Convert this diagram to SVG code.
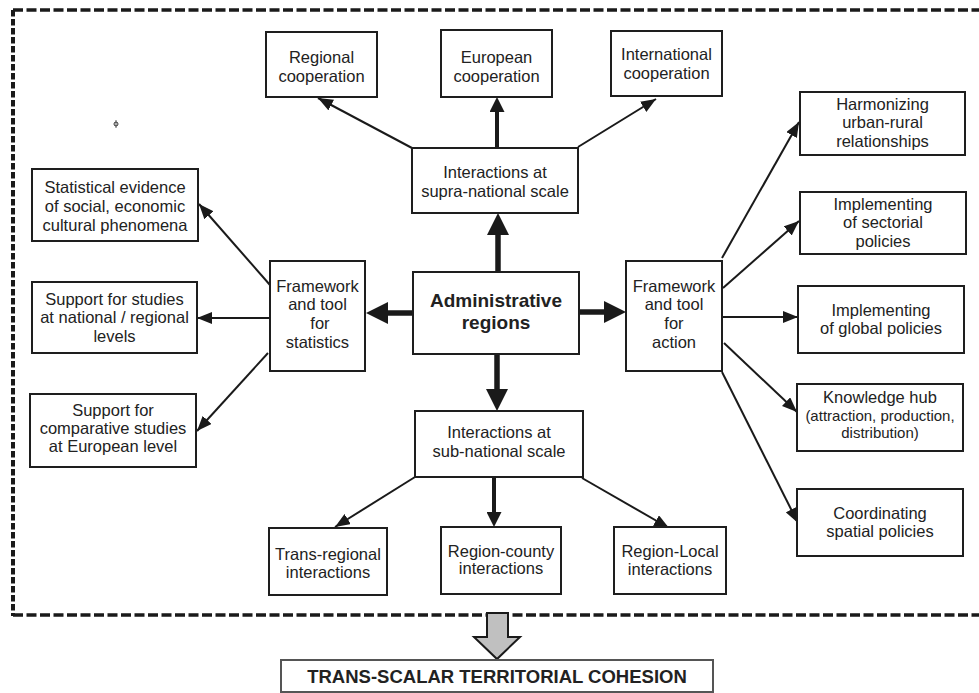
<svg xmlns="http://www.w3.org/2000/svg" width="979" height="693" viewBox="0 0 979 693">
<style>
  .box{fill:#fff;stroke:#1e1e1e;stroke-width:2}
  .t{font-family:"Liberation Sans",Arial,sans-serif;font-size:16.5px;fill:#222;text-anchor:middle}
  .s{font-size:15px}
  .b{font-weight:bold}
  .thin{stroke:#1a1a1a;stroke-width:2;fill:none;marker-end:url(#ah)}
  .med{stroke:#1a1a1a;stroke-width:4;fill:none;marker-end:url(#am)}
  .thick{stroke:#1a1a1a;stroke-width:5.5;fill:none;marker-end:url(#at)}
  .dh{stroke:#1a1a1a;stroke-width:3.5;stroke-dasharray:10 3.5;fill:none}
  .dv{stroke:#1a1a1a;stroke-width:4;stroke-dasharray:6.5 2.5;fill:none}
</style>
<defs>
  <marker id="ah" markerUnits="userSpaceOnUse" markerWidth="15" markerHeight="12" refX="15" refY="6" orient="auto">
    <path d="M0,0 L15,6 L0,12 z" fill="#1a1a1a"/>
  </marker>
  <marker id="am" markerUnits="userSpaceOnUse" markerWidth="15" markerHeight="15" refX="0" refY="7.5" orient="auto">
    <path d="M0,0 L15,7.5 L0,15 z" fill="#1a1a1a"/>
  </marker>
  <marker id="at" markerUnits="userSpaceOnUse" markerWidth="22" markerHeight="22" refX="0" refY="11" orient="auto">
    <path d="M0,0 L22,11 L0,22 z" fill="#1a1a1a"/>
  </marker>
</defs>
<rect width="979" height="693" fill="#fff"/>

<!-- dashed frame -->
<g id="frame">
  <line class="dh" x1="13" y1="10" x2="985" y2="10"/>
  <line class="dh" x1="13" y1="615" x2="985" y2="615"/>
  <line class="dv" x1="13" y1="10" x2="13" y2="616"/>
</g>

<!-- stray mark -->
<g id="mark">
  <circle cx="116" cy="124" r="2" fill="none" stroke="#333" stroke-width="1"/>
  <line x1="116" y1="120" x2="116" y2="128" stroke="#333" stroke-width="0.8"/>
</g>

<g id="connectors">
  <line class="thick" x1="498" y1="272" x2="498" y2="235"/>
  <line class="thick" x1="413" y1="313" x2="388" y2="313"/>
  <line class="thick" x1="579" y1="312" x2="604" y2="312"/>
  <line class="thick" x1="497" y1="354" x2="497" y2="389"/>
  <line class="med" x1="497" y1="148" x2="497" y2="112"/>
  <line class="med" x1="494" y1="477" x2="494" y2="512"/>
  <line class="thin" x1="412" y1="148" x2="318" y2="98"/>
  <line class="thin" x1="578" y1="147" x2="656" y2="99"/>
  <line class="thin" x1="270" y1="285" x2="199" y2="204"/>
  <line class="thin" x1="270" y1="318" x2="197" y2="318"/>
  <line class="thin" x1="268" y1="353" x2="197" y2="431"/>
  <line class="thin" x1="722" y1="258" x2="799" y2="122"/>
  <line class="thin" x1="723" y1="288" x2="799" y2="221"/>
  <line class="thin" x1="722" y1="317" x2="798" y2="317"/>
  <line class="thin" x1="724" y1="343" x2="797" y2="412"/>
  <line class="thin" x1="722" y1="372" x2="798" y2="523"/>
  <line class="thin" x1="415" y1="477" x2="335" y2="527"/>
  <line class="thin" x1="582" y1="478" x2="669" y2="528"/>
  <polygon points="487,613 508,613 508,637 520,637 497,659 474,637 487,637" fill="#c0c0c0" stroke="#1a1a1a" stroke-width="2"/>
</g>

<g id="regional-coop">
  <rect class="box" x="266" y="32" width="111" height="65"/>
  <text class="t" x="321.5" y="63">Regional</text>
  <text class="t" x="321.5" y="82">cooperation</text>
</g>
<g id="european-coop">
  <rect class="box" x="441" y="30" width="111" height="67"/>
  <text class="t" x="496.5" y="63">European</text>
  <text class="t" x="496.5" y="82">cooperation</text>
</g>
<g id="international-coop">
  <rect class="box" x="611" y="31" width="111" height="65"/>
  <text class="t" x="666.5" y="60">International</text>
  <text class="t" x="666.5" y="79">cooperation</text>
</g>
<g id="supra">
  <rect class="box" x="412" y="148" width="166" height="65"/>
  <text class="t" x="495" y="178">Interactions at</text>
  <text class="t" x="495" y="197">supra-national scale</text>
</g>
<g id="harmonizing">
  <rect class="box" x="800" y="92" width="165" height="63"/>
  <text class="t" x="882.5" y="110">Harmonizing</text>
  <text class="t" x="882.5" y="128">urban-rural</text>
  <text class="t" x="882.5" y="147">relationships</text>
</g>
<g id="sectorial">
  <rect class="box" x="800" y="192" width="166" height="62"/>
  <text class="t" x="883" y="210">Implementing</text>
  <text class="t" x="883" y="228">of sectorial</text>
  <text class="t" x="883" y="247">policies</text>
</g>
<g id="global">
  <rect class="box" x="798" y="286" width="166" height="67"/>
  <text class="t" x="881" y="316">Implementing</text>
  <text class="t" x="881" y="334">of global policies</text>
</g>
<g id="knowledge">
  <rect class="box" x="797" y="384" width="166" height="67"/>
  <text class="t" x="880" y="403">Knowledge hub</text>
  <text class="t s" x="880" y="421">(attraction, production,</text>
  <text class="t s" x="880" y="438">distribution)</text>
</g>
<g id="coordinating">
  <rect class="box" x="797" y="489" width="166" height="67"/>
  <text class="t" x="880" y="519">Coordinating</text>
  <text class="t" x="880" y="537">spatial policies</text>
</g>
<g id="statistical">
  <rect class="box" x="32" y="169" width="166" height="72"/>
  <text class="t" x="115" y="193">Statistical evidence</text>
  <text class="t" x="115" y="212">of social, economic</text>
  <text class="t" x="115" y="231">cultural phenomena</text>
</g>
<g id="support-national">
  <rect class="box" x="32" y="282" width="165" height="71"/>
  <text class="t" x="114.5" y="305">Support for studies</text>
  <text class="t" x="114.5" y="323">at national / regional</text>
  <text class="t" x="114.5" y="342">levels</text>
</g>
<g id="support-comparative">
  <rect class="box" x="30" y="394" width="166" height="73"/>
  <text class="t" x="113" y="416">Support for</text>
  <text class="t" x="113" y="434">comparative studies</text>
  <text class="t" x="113" y="452">at European level</text>
</g>
<g id="framework-stats">
  <rect class="box" x="270" y="261" width="95" height="110"/>
  <text class="t" x="317.5" y="292">Framework</text>
  <text class="t" x="317.5" y="310">and tool</text>
  <text class="t" x="320" y="329">for</text>
  <text class="t" x="317.5" y="348">statistics</text>
</g>
<g id="admin">
  <rect class="box" x="413" y="272" width="166" height="82"/>
  <text class="t b" x="496" y="307" style="font-size:19px">Administrative</text>
  <text class="t b" x="496" y="329" style="font-size:19px">regions</text>
</g>
<g id="framework-action">
  <rect class="box" x="626" y="261" width="96" height="110"/>
  <text class="t" x="674" y="292">Framework</text>
  <text class="t" x="674" y="310">and tool</text>
  <text class="t" x="674" y="329">for</text>
  <text class="t" x="674" y="348">action</text>
</g>
<g id="sub">
  <rect class="box" x="415" y="411" width="168" height="66"/>
  <text class="t" x="499" y="438">Interactions at</text>
  <text class="t" x="499" y="457">sub-national scale</text>
</g>
<g id="trans-regional">
  <rect class="box" x="269" y="528" width="118" height="67"/>
  <text class="t" x="328" y="560">Trans-regional</text>
  <text class="t" x="328" y="578">interactions</text>
</g>
<g id="region-county">
  <rect class="box" x="441" y="527" width="120" height="67"/>
  <text class="t" x="501" y="557">Region-county</text>
  <text class="t" x="501" y="574">interactions</text>
</g>
<g id="region-local">
  <rect class="box" x="614" y="527" width="112" height="67"/>
  <text class="t" x="670" y="557">Region-Local</text>
  <text class="t" x="670" y="575">interactions</text>
</g>
<g id="cohesion">
  <rect class="box" x="281" y="660" width="432" height="32" style="stroke:#555"/>
  <text class="t b" x="497" y="683" style="font-size:18.5px">TRANS-SCALAR TERRITORIAL COHESION</text>
</g>
</svg>
